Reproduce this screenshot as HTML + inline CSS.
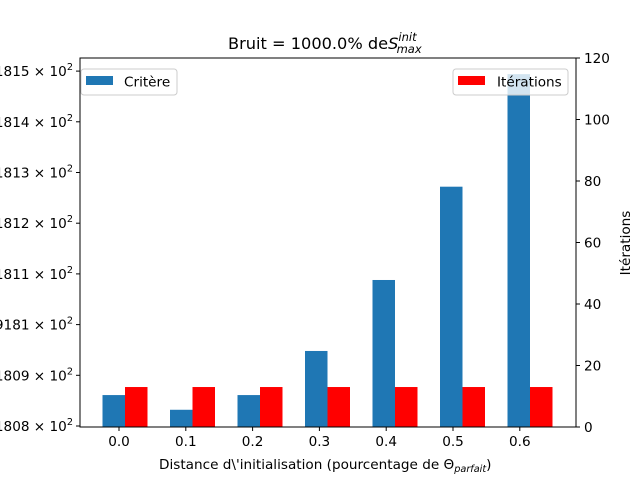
<!DOCTYPE html>
<html><head><meta charset="utf-8"><style>
html,body{margin:0;padding:0;background:#fff;}
svg{display:block;font-family:"DejaVu Sans","Liberation Sans",sans-serif;}
</style></head><body>
<svg id="chart" width="640" height="480" viewBox="0 0 640 480">
<rect width="640" height="480" fill="#fff"/>
<g id="marks"></g>
<g id="axes"></g>
<text x="228" y="49" font-size="16.2">Bruit = 1000.0% de<tspan font-style="italic">S</tspan><tspan font-style="italic" font-size="11.5" dy="-8">init</tspan><tspan font-style="italic" font-size="11.5" dx="-20" dy="12">max</tspan></text>
<text x="159" y="469" font-size="13.6">Distance d\'initialisation (pourcentage de Θ<tspan font-style="italic" font-size="9.7" dy="3">parfait</tspan><tspan dy="-3">)</tspan></text>
<text transform="translate(630,243) rotate(-90)" font-size="13.6" text-anchor="middle">Itérations</text>
<g>
<rect x="81" y="69" width="96" height="26" rx="3" fill="#fff" fill-opacity="0.8" stroke="#ccc"/>
<rect x="86" y="76" width="27" height="9" fill="#1f77b4"/>
<text x="124" y="86.5" font-size="13.6">Critère</text>
</g>
<g>
<rect x="453" y="69" width="115" height="26" rx="3" fill="#fff" fill-opacity="0.8" stroke="#ccc"/>
<rect x="458" y="76" width="27" height="9" fill="#ff0000"/>
<text x="497" y="86.5" font-size="13.6">Itérations</text>
</g>
</svg>
<script>
const categories = [0.0, 0.1, 0.2, 0.3, 0.4, 0.5, 0.6];
const criteria = [180861, 180832, 180861, 180948, 181088, 181272, 181494];
const iterations = [13, 13, 13, 13, 13, 13, 13];
const leftTicks = [180800, 180900, 181000, 181100, 181200, 181300, 181400, 181500];
const leftTickLabels = ["1808", "1809", "9181", "1811", "1812", "1813", "1814", "1815"];
const rightTicks = [0, 20, 40, 60, 80, 100, 120];

const NS = "http://www.w3.org/2000/svg";
const PL = 80, PR = 576, PT = 58, PB = 427;
const xS = v => 119 + v * 668;
const xB = v => 125 + v * 675;
const yL = v => 426 - (v - 180800) / 100 * 50.7;
const yR = v => PB - v / 120 * (PB - PT);
function mk(tag, attrs, parent) {
  const e = document.createElementNS(NS, tag);
  for (const k in attrs) e.setAttribute(k, attrs[k]);
  parent.appendChild(e);
  return e;
}
const marks = document.getElementById("marks");
const axes = document.getElementById("axes");
const bw = 22.5;
categories.forEach((c, i) => {
  const bx = xB(c);
  const yb = Math.max(PT, yL(criteria[i]));
  const b = mk("rect", {x: bx - bw, y: yb, width: bw, height: PB - yb, fill: "#1f77b4"}, marks);
  
  
  const yr = yR(iterations[i]);
  const r = mk("rect", {x: bx, y: yr, width: bw, height: PB - yr, fill: "#ff0000"}, marks);
  
  
  const cx = xS(c);
  mk("line", {x1: cx, x2: cx, y1: PB, y2: PB + 4, stroke: "#000"}, axes);
  const t = mk("text", {x: cx, y: PB + 19, "font-size": 13.6, "text-anchor": "middle"}, axes);
  t.textContent = c.toFixed(1);
  
  
});
leftTicks.forEach((v, i) => {
  const y = yL(v);
  mk("line", {x1: PL - 4, x2: PL, y1: y, y2: y, stroke: "#000"}, axes);
  const t = mk("text", {x: PL - 7, y: y + 5, "font-size": 13.6, "text-anchor": "end"}, axes);
  t.innerHTML = leftTickLabels[i] + " × 10<tspan font-size='9.7' dy='-6'>2</tspan>";
  
  
});
rightTicks.forEach(v => {
  const y = yR(v);
  mk("line", {x1: PR, x2: PR + 4, y1: y, y2: y, stroke: "#000"}, axes);
  const t = mk("text", {x: PR + 8, y: y + 5, "font-size": 13.6}, axes);
  t.textContent = v;
  
  
});
const frame = mk("rect", {x: PL, y: PT, width: PR - PL, height: PB - PT, fill: "none", stroke: "#000", "stroke-width": 1}, axes);


</script>
</body></html>
